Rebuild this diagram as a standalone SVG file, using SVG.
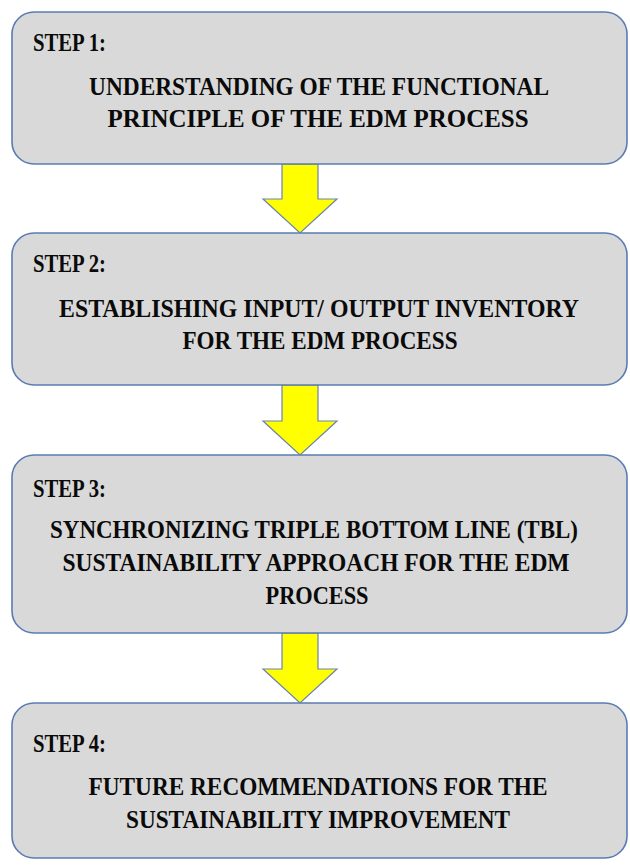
<svg xmlns="http://www.w3.org/2000/svg" width="630" height="866" viewBox="0 0 630 866">
  <style>
    .box { fill: #d9d9d9; stroke: #5a7cb4; stroke-width: 1.6; }
    .arrow { fill: #ffff00; stroke: #6b83b0; stroke-width: 1.2; stroke-linejoin: miter; }
    text { font-family: "Liberation Serif", "DejaVu Serif", serif; font-weight: bold; fill: #0a0a0a; }
    .step { font-size: 26px; }
    .body { font-size: 26px; text-anchor: middle; }
  </style>
  <rect width="630" height="866" fill="#ffffff"/>

  <!-- downward arrows between steps -->
  <g id="connectors">
    <path class="arrow" d="M282,164 H318 V199 H337 L300,233 L263,199 H282 Z"/>
    <path class="arrow" d="M282,385 H318 V421 H337 L300,455 L263,421 H282 Z"/>
    <path class="arrow" d="M282,633 H318 V669 H337 L300,703 L263,669 H282 Z"/>
  </g>

  <g id="step1">
    <rect class="box" x="12" y="12" width="615" height="152" rx="22" ry="22"/>
    <text class="step" x="33" y="51" textLength="73" lengthAdjust="spacingAndGlyphs">STEP 1:</text>
    <text class="body" x="319" y="95" textLength="460" lengthAdjust="spacingAndGlyphs">UNDERSTANDING OF THE FUNCTIONAL</text>
    <text class="body" x="318" y="127" textLength="421" lengthAdjust="spacingAndGlyphs">PRINCIPLE OF THE EDM PROCESS</text>
  </g>

  <g id="step2">
    <rect class="box" x="12" y="233" width="615" height="152" rx="22" ry="22"/>
    <text class="step" x="33" y="272" textLength="73" lengthAdjust="spacingAndGlyphs">STEP 2:</text>
    <text class="body" x="319" y="317" textLength="520" lengthAdjust="spacingAndGlyphs">ESTABLISHING INPUT/ OUTPUT INVENTORY</text>
    <text class="body" x="320" y="349" textLength="275" lengthAdjust="spacingAndGlyphs">FOR THE EDM PROCESS</text>
  </g>

  <g id="step3">
    <rect class="box" x="12" y="455" width="615" height="178" rx="22" ry="22"/>
    <text class="step" x="33" y="497" textLength="73" lengthAdjust="spacingAndGlyphs">STEP 3:</text>
    <text class="body" x="314" y="538" textLength="528" lengthAdjust="spacingAndGlyphs">SYNCHRONIZING TRIPLE BOTTOM LINE (TBL)</text>
    <text class="body" x="316" y="571" textLength="507" lengthAdjust="spacingAndGlyphs">SUSTAINABILITY APPROACH FOR THE EDM</text>
    <text class="body" x="317" y="604" textLength="103" lengthAdjust="spacingAndGlyphs">PROCESS</text>
  </g>

  <g id="step4">
    <rect class="box" x="12" y="703" width="615" height="155" rx="22" ry="22"/>
    <text class="step" x="33" y="752" textLength="73" lengthAdjust="spacingAndGlyphs">STEP 4:</text>
    <text class="body" x="318" y="795" textLength="459" lengthAdjust="spacingAndGlyphs">FUTURE RECOMMENDATIONS FOR THE</text>
    <text class="body" x="318" y="828" textLength="384" lengthAdjust="spacingAndGlyphs">SUSTAINABILITY IMPROVEMENT</text>
  </g>
</svg>
